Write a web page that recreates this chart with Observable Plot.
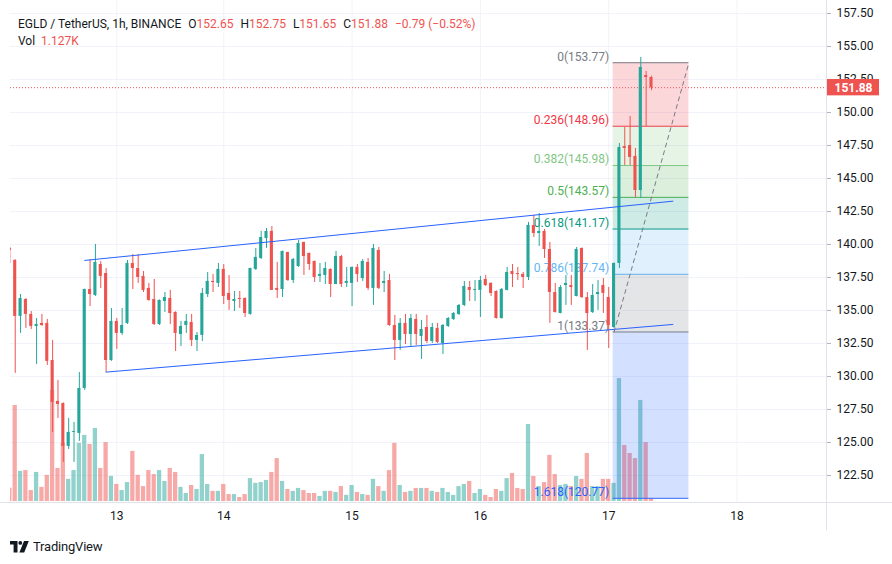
<!DOCTYPE html>
<html><head><meta charset="utf-8">
<script src="https://cdn.jsdelivr.net/npm/d3@7"></script>
<script src="https://cdn.jsdelivr.net/npm/@observablehq/plot@0.6"></script>
<style>
body{margin:0;background:#fff;}
#wrap{position:relative;width:892px;height:564px;overflow:hidden;background:#fff;font-family:Roboto,"Liberation Sans",sans-serif;color:#131722;}
.layer{position:absolute;left:0;top:0;}
#legend{position:absolute;left:18px;top:16px;font-size:12px;line-height:17px;white-space:nowrap;}
#legend .it{margin-left:7px;}
#legend .v{color:#ef5350;}
#vline{position:absolute;left:826px;top:0;width:1px;height:530px;background:#e0e3eb;}
#hline{position:absolute;left:0;top:502px;width:892px;height:1px;background:#e0e3eb;}
#logo{position:absolute;left:10px;top:539px;display:flex;align-items:center;font-size:13px;color:#131722;}
#logo span{margin-left:4px;letter-spacing:-0.2px;}
</style></head><body>
<div id="wrap">
  <div id="l1" class="layer"></div>
  <div id="l2" class="layer"></div>
  <div id="l3" class="layer"></div>
  <div id="vline"></div>
  <div id="hline"></div>
  <div id="legend">
    <div><span>EGLD / TetherUS, 1h, BINANCE</span><span class="it">O<span class="v">152.65</span></span><span class="it">H<span class="v">152.75</span></span><span class="it">L<span class="v">151.65</span></span><span class="it">C<span class="v">151.88</span></span><span class="it v">−0.79 (−0.52%)</span></div>
    <div>Vol <span class="v" style="margin-left:3px">1.127K</span></div>
  </div>
  <div id="logo"><svg width="19" height="12" viewBox="0 0 19 12"><path d="M0 0h7.5v11.5H3.6V3.6H0Z" fill="#131722"/><circle cx="10.3" cy="1.9" r="1.9" fill="#131722"/><path d="M14 0h4.8l-4.6 11.5H9.4Z" fill="#131722"/></svg><span>TradingView</span></div>
</div>
<script>
// ---- data ----
const firstBar = -20; // bar index of first candle (hours relative to day 13 00:00)
const dayTicks = [0, 20, 44, 68, 92, 116];
const dayLabels = ["13", "14", "15", "16", "17", "18"];
const priceTicks = [122.5, 125, 127.5, 130, 132.5, 135, 137.5, 140, 142.5, 145, 147.5, 150, 152.5, 155, 157.5];

const opens = [139.70,138.79,134.55,135.83,134.70,133.79,134.02,134.02,131.21,128.11,127.95,124.70,125.76,125.68,129.09,136.59,136.14,138.48,137.80,131.21,
134.17,133.26,134.02,138.56,138.18,137.58,136.67,135.83,133.94,135.68,135.91,134.85,133.18,133.86,134.09,132.73,133.11,136.21,137.20,137.05,
138.11,136.29,135.68,135.91,135.91,134.70,138.11,138.94,140.45,140.99,136.67,136.59,139.39,137.27,138.33,140.15,139.32,138.71,137.58,137.65,
138.11,136.97,139.09,137.05,137.05,138.26,137.42,138.64,136.67,139.55,137.05,137.27,133.86,132.73,134.02,133.18,134.32,133.03,133.71,132.65,
133.64,132.50,133.79,134.32,134.70,135.38,136.74,136.52,136.52,137.35,137.05,136.44,134.39,136.52,137.95,137.80,137.73,137.50,141.44,140.83,
140.99,139.62,136.36,134.77,136.89,136.89,136.06,139.70,135.98,134.85,136.21,136.89,135.98,133.71,138.56,147.42,147.50,146.67,144.09,152.80,152.65];
const highs = [139.77,138.85,136.21,135.90,134.92,134.39,134.70,134.32,132.73,129.70,128.00,126.82,126.52,130.30,136.62,138.86,140.00,138.71,138.18,135.15,
134.39,135.15,138.79,139.24,139.24,137.95,137.05,137.35,135.80,136.36,136.52,134.90,134.17,134.70,134.70,133.33,136.67,137.88,137.73,138.56,
138.48,137.65,136.44,136.44,135.95,138.20,139.70,140.99,141.21,141.36,138.64,139.50,139.42,138.94,140.30,140.18,139.35,138.75,138.56,138.64,
138.15,139.47,139.17,138.26,138.30,138.48,138.86,138.94,140.00,139.77,137.95,137.73,134.62,134.39,134.70,134.70,134.70,134.24,134.62,134.02,
134.02,133.94,134.47,134.85,135.45,137.20,137.20,137.27,137.58,137.65,137.10,136.48,136.67,138.26,138.48,138.26,137.88,141.67,142.20,142.35,
141.14,140.15,137.05,136.89,137.65,137.65,139.77,139.73,136.36,136.97,137.27,137.42,136.74,138.60,147.65,148.86,149.70,147.27,154.17,153.11,152.75];
const lows = [138.56,130.23,133.26,133.64,133.56,130.91,133.79,130.84,125.76,126.82,123.49,124.47,123.49,125.08,128.94,135.30,136.06,136.67,130.30,131.14,
132.05,133.11,133.94,136.59,137.05,136.36,135.70,133.86,133.86,134.85,133.94,131.89,132.27,133.26,132.27,131.89,132.65,135.98,136.36,136.74,
135.45,135.00,134.92,135.15,134.47,134.65,138.03,138.86,139.70,136.50,135.91,135.98,137.20,137.05,138.26,137.65,138.03,137.12,137.12,136.97,
135.98,136.95,136.74,136.74,135.30,137.12,137.20,136.52,135.38,136.59,136.36,133.80,131.21,131.97,132.42,132.27,132.35,131.29,132.50,132.50,
132.50,131.67,133.71,134.24,134.62,135.30,135.68,135.68,134.47,136.82,136.06,134.35,134.35,136.48,136.74,137.27,136.67,137.27,140.53,139.85,
138.94,134.02,134.80,134.75,135.38,135.38,136.03,135.91,131.97,134.77,135.00,134.77,132.12,133.64,138.18,145.98,145.98,143.56,143.48,148.94,151.65];
const closes = [139.55,134.55,135.91,134.70,133.79,133.94,133.86,131.14,128.03,127.88,124.70,125.76,125.83,129.09,136.59,136.21,138.64,137.58,131.21,134.17,
133.26,133.86,138.56,138.18,137.50,136.52,135.76,133.94,135.76,135.98,134.77,133.26,133.79,134.17,132.73,133.11,136.29,137.20,137.12,138.11,
136.06,135.76,135.83,135.83,134.77,138.18,139.02,140.53,140.99,136.52,136.52,139.47,137.27,138.86,140.08,139.09,138.48,137.50,137.73,138.18,
136.97,139.09,136.97,137.20,138.26,137.73,138.71,136.67,139.70,136.67,137.20,133.86,132.73,134.02,133.18,134.39,133.18,133.56,132.65,133.71,
132.58,133.86,134.39,134.77,135.38,136.82,136.52,136.59,137.27,136.89,136.29,134.39,136.59,137.88,137.73,137.73,137.50,141.44,140.83,140.99,
139.62,136.36,134.85,136.74,137.05,136.74,139.62,135.98,134.77,136.14,136.36,136.29,133.86,138.56,147.35,147.27,146.59,144.09,153.41,152.65,151.88];
const volumes = [5.0,36.0,11.3,11.6,4.1,10.9,5.3,9.8,41.6,12.4,21.8,8.3,11.6,21.8,24.8,21.4,27.4,12.4,22.1,9.4,
6.4,4.1,7.1,18.8,9.8,5.6,11.6,10.1,11.6,7.5,12.4,10.9,5.3,3.0,6.0,4.5,17.6,6.4,3.8,3.8,
6.4,2.6,2.6,1.5,2.6,8.6,6.8,7.1,7.9,10.9,16.1,7.5,4.5,3.8,4.9,4.1,3.0,3.0,1.9,3.8,
3.8,3.4,5.6,2.3,6.0,3.4,2.6,2.3,8.3,5.6,3.8,11.6,21.8,6.0,3.4,3.8,4.9,4.9,4.9,3.8,
3.4,4.9,3.4,2.3,5.6,6.4,7.5,3.0,4.5,2.3,1.5,4.5,3.8,8.6,10.5,4.9,4.5,28.9,9.4,5.6,
7.1,17.3,10.1,6.0,6.4,5.6,9.4,8.3,18.0,5.6,5.6,8.3,8.3,6.8,46.1,21.0,18.0,16.1,37.9,22.1,1.127];

const fibRatios = [0, 0.236, 0.382, 0.5, 0.618, 0.786, 1, 1.618];
const fibPrices = [153.77, 148.96, 145.98, 143.57, 141.17, 137.74, 133.37, 120.77];
const fibColors = ["#787b86", "#f23645", "#81c784", "#4caf50", "#089981", "#64b5f6", "#787b86", "#2962ff"];
const fibStartBar = 92.83, fibEndBar = 107;

const channelUpper = [{bar: -6, price: 138.79}, {bar: 104, price: 143.28}];
const channelLower = [{bar: -2, price: 130.33}, {bar: 104, price: 133.94}];
const trendLine = [{bar: 93, price: 133.37}, {bar: 107, price: 153.77}];
const lastClose = 151.88;

// ---- build ----
const UP = "#26a69a", DOWN = "#ef5350";
const candles = opens.map((o, k) => ({bar: firstBar + k, o, h: highs[k], l: lows[k], c: closes[k], v: volumes[k], up: closes[k] >= o}));
const xDomain = [-19.88, 132.73];
const yDomain = [120.45, 158.485];
const base = {width: 892, height: 530, marginLeft: 10, marginRight: 66, marginTop: 0, marginBottom: 28,
  style: {fontFamily: "Roboto, 'Liberation Sans', sans-serif", fontSize: "12px", background: "transparent", overflow: "visible"}};

// layer 1: grid and axes
const p1 = Plot.plot({...base,
  x: {domain: xDomain}, y: {domain: yDomain},
  marks: [
    Plot.ruleY(priceTicks, {stroke: "#f0f3fa", strokeWidth: 1}),
    Plot.ruleX(dayTicks, {stroke: "#f0f3fa", strokeWidth: 1}),
    Plot.axisY(priceTicks, {anchor: "right", tickSize: 4, tickPadding: 6, tickFormat: d => d.toFixed(2), label: null, stroke: "#b2b5be", fill: "#131722"}),
    Plot.axisX(dayTicks, {anchor: "bottom", tickSize: 0, tickPadding: 9, tickFormat: d => dayLabels[dayTicks.indexOf(d)], label: null, fill: "#131722"})
  ]});
document.getElementById("l1").appendChild(p1);

// layer 2: volume
const p2 = Plot.plot({...base, marginBottom: 29,
  x: {domain: xDomain, axis: null}, y: {domain: [0, 187.9], axis: null},
  marks: [
    Plot.rectY(candles, {x1: d => d.bar - 0.4, x2: d => d.bar + 0.4, y1: 0, y2: "v", fill: d => d.up ? UP : DOWN, fillOpacity: 0.5, clip: true})
  ]});
document.getElementById("l2").appendChild(p2);

// layer 3: fib, candles, drawings
const levels = fibRatios.map((r, i) => ({r, p: fibPrices[i], color: fibColors[i]}));
const bands = levels.slice(1).map((d, i) => ({top: levels[i].p, bottom: d.p, color: d.color}));
const pxPerBar = 816 / (xDomain[1] - xDomain[0]);
const p3 = Plot.plot({...base,
  x: {domain: xDomain, axis: null}, y: {domain: yDomain, axis: null},
  marks: [
    Plot.rect(bands, {x1: fibStartBar, x2: fibEndBar, y1: "bottom", y2: "top", fill: "color", fillOpacity: 0.2}),
    Plot.ruleY(levels, {y: "p", x1: fibStartBar, x2: fibEndBar, stroke: "color", strokeWidth: 1}),
    Plot.text(levels, {x: fibStartBar, y: "p", text: d => `${d.r}(${d.p.toFixed(2)})`, fill: "color", textAnchor: "end", dx: -4, dy: -6, fontSize: 12}),
    Plot.ruleY([lastClose], {stroke: DOWN, strokeDasharray: "1,2", strokeWidth: 1}),
    Plot.ruleX(candles, {x: "bar", y1: "l", y2: "h", stroke: d => d.up ? UP : DOWN, strokeWidth: 1, clip: true}),
    Plot.rect(candles, {x1: d => d.bar - 0.29, x2: d => d.bar + 0.29, y1: d => Math.min(d.o, d.c), y2: d => Math.max(d.o, d.c), fill: d => d.up ? UP : DOWN, clip: true}),
    Plot.line(channelUpper, {x: "bar", y: "price", stroke: "#2962ff", strokeWidth: 1}),
    Plot.line(channelLower, {x: "bar", y: "price", stroke: "#2962ff", strokeWidth: 1}),
    Plot.line(trendLine, {x: "bar", y: "price", stroke: "#787b86", strokeWidth: 1, strokeDasharray: "4,4"}),
    Plot.rect([lastClose], {x1: () => xDomain[1], x2: () => xDomain[1] + 53 / pxPerBar, y1: d => d - 0.62, y2: d => d + 0.62, fill: DOWN}),
    Plot.text([lastClose], {x: () => xDomain[1], y: d => d, text: d => d.toFixed(2), dx: 8, textAnchor: "start", fill: "white", fontWeight: "bold", fontSize: 12})
  ]});
document.getElementById("l3").appendChild(p3);
</script>
</body></html>
